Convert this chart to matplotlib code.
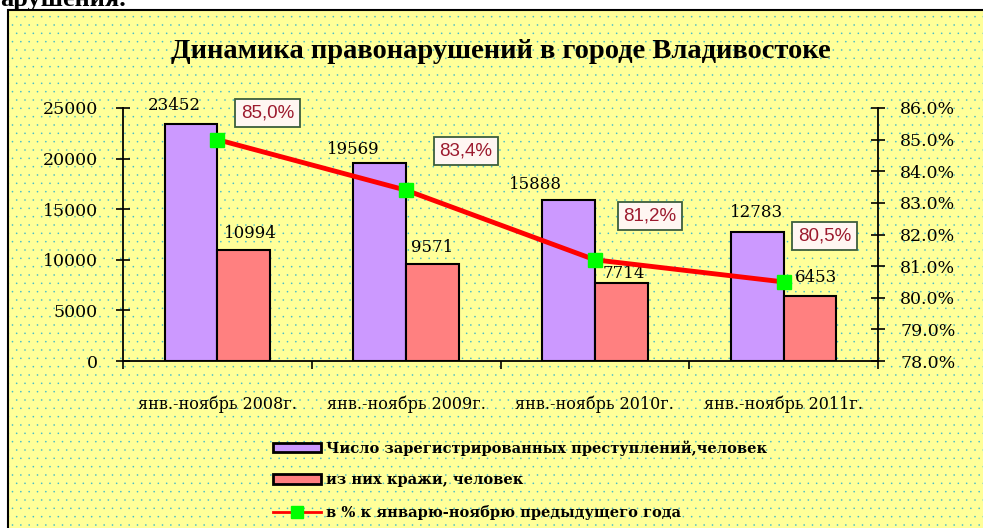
import numpy as np
import matplotlib
matplotlib.use('Agg')
import matplotlib.pyplot as plt
from matplotlib.patches import Rectangle, Patch
from matplotlib.lines import Line2D

# данные
periods = ['янв.-ноябрь 2008г.', 'янв.-ноябрь 2009г.', 'янв.-ноябрь 2010г.', 'янв.-ноябрь 2011г.']
crimes = [23452, 19569, 15888, 12783]
thefts = [10994, 9571, 7714, 6453]
pct = [85.0, 83.4, 81.2, 80.5]
pct_labels = ['85,0%', '83,4%', '81,2%', '80,5%']

# смещения подписей (в пикселях), как в исходной диаграмме Excel
crime_off = [(-17, 18), (-26, 13), (-33, 16), (-1, 19)]
theft_off = [(7, 16), (0, 17), (3, 9), (6, 18)]
pct_off = [(50, 27), (60, 39), (55, 44), (41, 46)]

plt.rcParams['font.family'] = ['DejaVu Serif']
plt.rcParams['hatch.linewidth'] = 0.0

fig = plt.figure(figsize=(9.83, 5.28), dpi=100)
fig.patch.set_facecolor('white')

# фон диаграммы: жёлтый с голубыми точками
W, H = 983., 528.
bg = Rectangle((8 / W, -0.02), 1.05, 1 - 10 / H + 0.02, transform=fig.transFigure,
               facecolor='#FFFF99', edgecolor='#44BBCC', hatch='..', lw=0, zorder=-3)
fig.patches.append(bg)
frame = Rectangle((8 / W, -0.02), 1.05, 1 - 10 / H + 0.02, transform=fig.transFigure,
                  facecolor='none', edgecolor='black', lw=1.5, zorder=-2)
fig.patches.append(frame)

fig.text(0, 1 - 6 / H, 'арушения.', fontsize=19, fontweight='bold', family='Liberation Serif',
         ha='left', va='baseline')

ax = fig.add_axes([123 / W, 1 - 361 / H, (878 - 123) / W, (361 - 108) / H])
ax.set_facecolor('none')
ax2 = ax.twinx()
ax2.set_facecolor('none')

x = np.arange(len(periods))
bw = 0.28
ax.bar(x - bw / 2, crimes, bw, color='#CC99FF', edgecolor='black', lw=1.5, zorder=2)
ax.bar(x + bw / 2, thefts, bw, color='#FF8080', edgecolor='black', lw=1.5, zorder=2)
for i in range(len(x)):
    ax.annotate(str(crimes[i]), (x[i] - bw / 2, crimes[i]),
                xytext=(crime_off[i][0] * 0.72, crime_off[i][1] * 0.72), textcoords='offset points',
                ha='center', va='center', fontsize=12, zorder=5)
    ax.annotate(str(thefts[i]), (x[i] + bw / 2, thefts[i]),
                xytext=(theft_off[i][0] * 0.72, theft_off[i][1] * 0.72), textcoords='offset points',
                ha='center', va='center', fontsize=12, zorder=5)

ax.set_xlim(-0.5, len(x) - 0.5)
ax.set_ylim(0, 25000)
ax.set_yticks([0, 5000, 10000, 15000, 20000, 25000])
ax.set_xticks(x)
ax.set_xticklabels(periods, fontsize=11.5)
ax.set_xticks(np.arange(-0.5, len(x)), minor=True)
ax.tick_params(axis='x', which='major', length=0, pad=25)
ax.tick_params(axis='x', which='minor', length=6, direction='out', width=1.2)
ax.tick_params(axis='y', direction='inout', length=10, width=1.2, pad=13, labelsize=12.5)
ax.spines['top'].set_visible(False)
ax.spines['right'].set_visible(False)
for s in ['left', 'bottom']:
    ax.spines[s].set_linewidth(1.3)

ax2.plot(x, pct, color='#FF0000', lw=3.5, marker='s', ms=10, mfc='#00FF00', mec='#00FF00', zorder=3)
ax2.set_ylim(78, 86)
ax2.set_yticks(np.arange(78, 86.1, 1))
ax2.set_yticklabels(['%.1f%%' % v for v in np.arange(78, 86.1, 1)])
ax2.tick_params(axis='y', direction='inout', length=10, width=1.2, pad=11, labelsize=12.5)
for s in ['top', 'left', 'bottom']:
    ax2.spines[s].set_visible(False)
ax2.spines['right'].set_linewidth(1.3)

for i in range(len(x)):
    ax2.annotate(pct_labels[i], (x[i], pct[i]), xytext=(pct_off[i][0] * 0.72, pct_off[i][1] * 0.72),
                 textcoords='offset points', ha='center', va='center', fontsize=13.5,
                 family='Liberation Sans', color='#9C1A2E',
                 bbox=dict(boxstyle='square,pad=0.3', fc='#FFF6F2', ec='#3C5E3C', lw=1.3))

fig.text((123 + 878) / 2 / W, 1 - 51 / H, 'Динамика правонарушений в городе Владивостоке',
         ha='center', va='center', fontsize=20.5, fontweight='bold', family='Liberation Serif')

handles = [Patch(facecolor='#CC99FF', edgecolor='black', lw=2),
           Patch(facecolor='#FF8080', edgecolor='black', lw=2),
           Line2D([0], [0], color='#FF0000', lw=2, marker='s', ms=8, mfc='#00FF00', mec='#00FF00')]
labels = ['Число зарегистрированных преступлений,человек', 'из них кражи, человек',
          'в % к январю-ноябрю предыдущего года']
fig.legend(handles, labels, loc='upper left', bbox_to_anchor=(260 / W, 1 - 427 / H), frameon=False,
           prop={'family': 'DejaVu Serif', 'weight': 'bold', 'size': 10.5},
           handlelength=3.3, handleheight=0.6, handletextpad=0.3, labelspacing=1.2)

fig.savefig('out.png', dpi=100)
